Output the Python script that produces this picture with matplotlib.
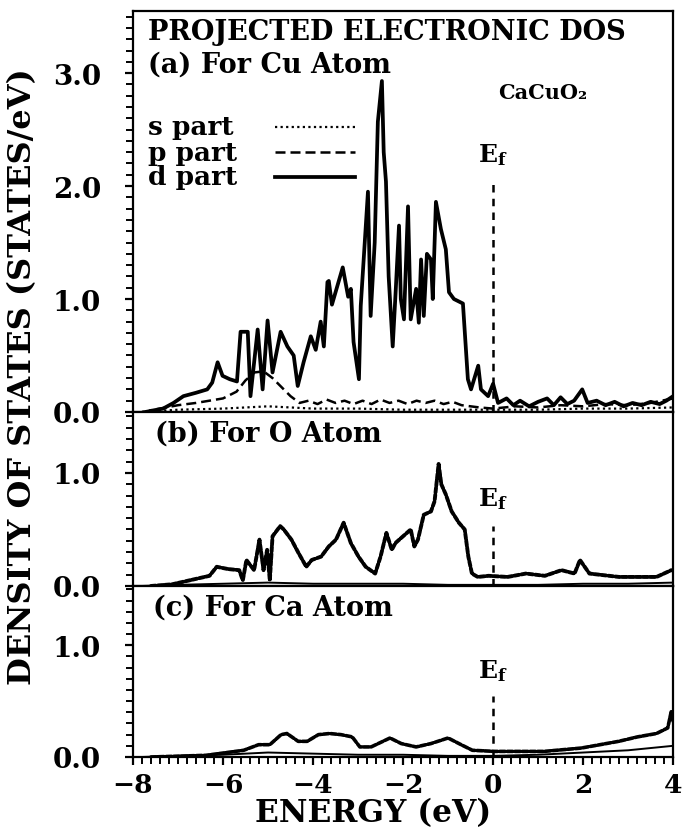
import numpy as np
import matplotlib
matplotlib.use("Agg")
import matplotlib.pyplot as plt
from matplotlib.ticker import MultipleLocator, FormatStrFormatter

plt.rcParams['font.family'] = ['DejaVu Serif']
plt.rcParams['font.weight'] = 'bold'
plt.rcParams['mathtext.fontset'] = 'dejavuserif'

# ---- Cu atom (panel a) ----
cu_d_e = [-7.6, -7.33, -7.1, -6.88, -6.6, -6.35, -6.24, -6.12, -6.01, -5.85, -5.69,
          -5.61, -5.45, -5.39, -5.23, -5.12, -5.01, -4.90, -4.72, -4.57, -4.43, -4.34,
          -4.21, -4.05, -3.94, -3.83, -3.76, -3.68, -3.65, -3.58, -3.50, -3.34, -3.22,
          -3.16, -3.10, -2.98, -2.94, -2.78, -2.72, -2.63, -2.56, -2.47, -2.43, -2.38,
          -2.32, -2.23, -2.16, -2.09, -2.05, -1.98, -1.89, -1.83, -1.71, -1.65, -1.60,
          -1.54, -1.47, -1.38, -1.34, -1.27, -1.16, -1.05, -0.98, -0.87, -0.67, -0.56,
          -0.49, -0.33, -0.27, -0.11, 0.0, 0.11, 0.3, 0.45, 0.6, 0.8, 1.0, 1.2, 1.35,
          1.5, 1.65, 1.8, 1.98, 2.1, 2.3, 2.5, 2.7, 2.9, 3.1, 3.3, 3.5, 3.7, 3.85, 4.0]
cu_d = [0.01, 0.03, 0.08, 0.14, 0.17, 0.20, 0.26, 0.44, 0.32, 0.29, 0.27,
        0.71, 0.71, 0.14, 0.73, 0.20, 0.81, 0.35, 0.71, 0.58, 0.50, 0.23,
        0.44, 0.67, 0.55, 0.80, 0.58, 1.15, 1.16, 0.95, 1.06, 1.28, 1.02,
        1.09, 0.62, 0.29, 0.94, 1.95, 0.85, 1.50, 2.57, 2.93, 2.30, 2.04,
        1.20, 0.58, 1.10, 1.65, 1.00, 0.82, 1.82, 0.82, 1.09, 0.79, 1.35,
        0.85, 1.40, 1.35, 1.00, 1.86, 1.62, 1.44, 1.06, 1.00, 0.96, 0.29,
        0.20, 0.41, 0.20, 0.14, 0.25, 0.08, 0.12, 0.06, 0.10, 0.05, 0.09, 0.12, 0.06,
        0.13, 0.07, 0.10, 0.20, 0.08, 0.10, 0.06, 0.09, 0.05, 0.08, 0.06, 0.09, 0.07, 0.10, 0.14]

cu_p_e = [-7.8, -7.4, -7.0, -6.6, -6.3, -6.0, -5.7, -5.5, -5.3, -5.1, -4.9, -4.7, -4.5,
          -4.3, -4.1, -3.9, -3.7, -3.5, -3.3, -3.1, -2.9, -2.7, -2.5, -2.3, -2.1, -1.9,
          -1.7, -1.5, -1.3, -1.1, -0.9, -0.7, -0.5, -0.3, 0.0, 0.5, 1.0, 1.5, 2.0, 2.5,
          3.0, 3.5, 4.0]
cu_p = [0.0, 0.03, 0.06, 0.08, 0.10, 0.12, 0.18, 0.28, 0.35, 0.36, 0.30, 0.22, 0.14,
        0.08, 0.10, 0.07, 0.11, 0.08, 0.10, 0.07, 0.10, 0.07, 0.11, 0.08, 0.10, 0.07,
        0.10, 0.08, 0.10, 0.07, 0.09, 0.06, 0.05, 0.04, 0.03, 0.05, 0.04, 0.06, 0.05, 0.07,
        0.06, 0.08, 0.12]

s_e = [-7.8, -7.0, -6.0, -5.0, -4.0, -3.0, -2.0, -1.0, 0.0, 1.0, 2.0, 3.0, 4.0]
cu_s = [0.0, 0.02, 0.03, 0.05, 0.03, 0.03, 0.02, 0.02, 0.02, 0.02, 0.03, 0.03, 0.04]

# ---- O atom (panel b) ----
o_e = [-7.6, -7.13, -6.30, -6.14, -5.89, -5.64, -5.56, -5.48, -5.31, -5.19, -5.10, -5.02,
       -4.96, -4.90, -4.73, -4.65, -4.48, -4.32, -4.15, -4.03, -3.82, -3.65, -3.49, -3.32,
       -3.16, -2.99, -2.83, -2.62, -2.50, -2.37, -2.25, -2.17, -2.00, -1.83, -1.75, -1.67,
       -1.54, -1.38, -1.30, -1.21, -1.15, -1.05, -0.92, -0.76, -0.63, -0.55, -0.47, -0.34,
       -0.10, 0.32, 0.73, 1.15, 1.52, 1.81, 1.93, 2.14, 2.80, 3.63, 3.96]
o_p = [0.0, 0.015, 0.09, 0.17, 0.15, 0.14, 0.05, 0.23, 0.14, 0.41, 0.14, 0.32,
       0.05, 0.44, 0.53, 0.50, 0.41, 0.29, 0.17, 0.23, 0.26, 0.35, 0.41, 0.56,
       0.38, 0.26, 0.17, 0.11, 0.26, 0.47, 0.32, 0.38, 0.44, 0.50, 0.35, 0.41,
       0.63, 0.66, 0.75, 1.08, 0.90, 0.81, 0.66, 0.56, 0.50, 0.26, 0.11, 0.08,
       0.09, 0.08, 0.11, 0.09, 0.14, 0.11, 0.23, 0.11, 0.08, 0.08, 0.14]
o_s = [0.0, 0.01, 0.02, 0.03, 0.02, 0.02, 0.02, 0.01, 0.01, 0.01, 0.02, 0.02, 0.03]

# ---- Ca atom (panel c) ----
ca_e = [-7.6, -6.38, -5.54, -5.21, -4.96, -4.71, -4.58, -4.33, -4.13, -3.88, -3.63,
        -3.38, -3.13, -2.96, -2.71, -2.29, -2.04, -1.71, -1.38, -1.00, -0.71, -0.46,
        0.04, 1.13, 1.96, 2.79, 3.21, 3.63, 3.88, 3.96, 4.0]
ca_p = [0.0, 0.015, 0.06, 0.11, 0.11, 0.20, 0.21, 0.14, 0.14, 0.20, 0.21,
        0.20, 0.18, 0.09, 0.09, 0.17, 0.12, 0.09, 0.12, 0.17, 0.11, 0.06,
        0.05, 0.05, 0.08, 0.14, 0.18, 0.21, 0.26, 0.41, 0.32]
ca_s = [0.0, 0.01, 0.02, 0.04, 0.03, 0.02, 0.02, 0.01, 0.01, 0.02, 0.04, 0.06, 0.10]

panel_titles = ["(a) For Cu Atom", "(b) For O Atom", "(c) For Ca Atom"]
legend_labels = ["s part", "p part", "d part"]
x_ticks = [-8, -6, -4, -2, 0, 2, 4]

s_style = dict(color='black', lw=1.6, ls=(0, (1, 1.5)))
p_style = dict(color='black', lw=1.8, ls=(0, (4, 2)))
d_style = dict(color='black', lw=2.7)

fig = plt.figure(figsize=(6.82, 8.37), dpi=100)
left, width = 0.195, 0.792
ax_a = fig.add_axes([left, 0.5066, width, 0.4791])
ax_b = fig.add_axes([left, 0.2987, width, 0.2079])
ax_c = fig.add_axes([left, 0.0944, width, 0.2043])
axes = [ax_a, ax_b, ax_c]
ylims = [3.55, 1.54, 1.53]

for ax, top in zip(axes, ylims):
    ax.set_xlim(-8, 4)
    ax.set_ylim(0, top)
    for sp in ax.spines.values():
        sp.set_linewidth(1.6)
    ax.yaxis.set_major_locator(MultipleLocator(1.0))
    ax.yaxis.set_minor_locator(MultipleLocator(0.1))
    ax.yaxis.set_major_formatter(FormatStrFormatter('%.1f'))
    ax.tick_params(axis='y', which='major', direction='out', length=6, width=1.6,
                   labelsize=20, pad=17)
    ax.tick_params(axis='y', which='minor', direction='out', length=5, width=1.4)
    ax.tick_params(axis='x', which='both', bottom=False, labelbottom=False)

ax_c.xaxis.set_minor_locator(MultipleLocator(0.2))
ax_c.set_xticks(x_ticks)
ax_c.set_xticklabels([str(t) if t >= 0 else "\u2212" + str(-t) for t in x_ticks])
ax_c.tick_params(axis='x', which='major', bottom=True, labelbottom=True, direction='out',
                 length=6, width=1.6, labelsize=19, pad=5)
ax_c.tick_params(axis='x', which='minor', bottom=True, direction='out', length=5, width=1.4)

# curves
ax_a.plot(s_e, cu_s, **s_style)
ax_a.plot(cu_p_e, cu_p, **p_style)
ax_a.plot(cu_d_e, cu_d, **d_style)

ax_b.plot(s_e, o_s, color='black', lw=1.4)
ax_b.plot(o_e, o_p, color='black', lw=2.8, ls=(0, (1.2, 0.6)), dash_capstyle='round')

ax_c.plot(s_e, ca_s, color='black', lw=1.4)
ax_c.plot(ca_e, ca_p, color='black', lw=2.6, ls=(0, (1.5, 0.6)), dash_capstyle='round')

# Fermi level markers
ef_tops = [2.06, 0.53, 0.55]
ef_labels = [2.28, 0.78, 0.78]
for ax, yt, yl in zip(axes, ef_tops, ef_labels):
    ax.plot([0, 0], [0, yt], color='black', lw=1.8, ls=(0, (3, 2.5)))
    ax.text(0.0, yl, r'$\mathbf{E_f}$', ha='center', va='center', fontsize=18)

# panel annotations
ax_a.text(0.028, 0.95, "PROJECTED ELECTRONIC DOS", transform=ax_a.transAxes,
          fontsize=19.5, fontweight='bold', va='center', ha='left')
ax_a.text(0.028, 0.868, panel_titles[0], transform=ax_a.transAxes,
          fontsize=19.5, fontweight='bold', va='center', ha='left')
ax_a.text(0.676, 0.798, "CaCuO\u2082", transform=ax_a.transAxes,
          fontsize=15, fontweight='bold', va='center', ha='left')
ax_b.text(0.04, 0.879, panel_titles[1], transform=ax_b.transAxes,
          fontsize=19.5, fontweight='bold', va='center', ha='left')
ax_c.text(0.037, 0.879, panel_titles[2], transform=ax_c.transAxes,
          fontsize=19.5, fontweight='bold', va='center', ha='left')

# key: label first, line sample after it
for lab, style, yk in zip(legend_labels, [s_style, p_style, d_style], [0.711, 0.648, 0.586]):
    ax_a.text(0.028, yk, lab, transform=ax_a.transAxes, fontsize=19,
              fontweight='bold', va='center', ha='left')
    ax_a.plot([0.263, 0.411], [yk, yk], transform=ax_a.transAxes, **style)

fig.text(0.033, 0.55, "DENSITY OF STATES (STATES/eV)", rotation=90,
         ha='center', va='center', fontsize=23, fontweight='bold')
fig.text(0.547, 0.028, "ENERGY (eV)", ha='center', va='center',
         fontsize=22.5, fontweight='bold')

fig.savefig("out.png", dpi=100)
